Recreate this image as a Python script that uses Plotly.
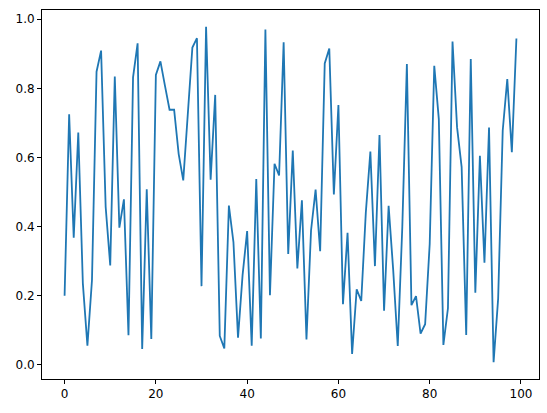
import plotly.graph_objects as go

x_values = list(range(100))
y_values = [
    0.200, 0.725, 0.368, 0.672, 0.236, 0.056, 0.245, 0.848, 0.909, 0.457,
    0.288, 0.834, 0.397, 0.479, 0.086, 0.832, 0.930, 0.046, 0.508, 0.075,
    0.839, 0.878, 0.807, 0.738, 0.738, 0.610, 0.534, 0.727, 0.918, 0.945,
    0.228, 0.978, 0.536, 0.781, 0.084, 0.048, 0.461, 0.355, 0.079, 0.260,
    0.387, 0.056, 0.538, 0.077, 0.970, 0.202, 0.582, 0.548, 0.933, 0.321,
    0.620, 0.279, 0.476, 0.074, 0.389, 0.507, 0.329, 0.872, 0.915, 0.493,
    0.752, 0.176, 0.382, 0.032, 0.219, 0.185, 0.440, 0.617, 0.286, 0.665,
    0.157, 0.460, 0.275, 0.055, 0.400, 0.870, 0.173, 0.199, 0.091, 0.118,
    0.350, 0.865, 0.711, 0.058, 0.164, 0.935, 0.687, 0.572, 0.087, 0.885,
    0.209, 0.605, 0.296, 0.687, 0.008, 0.192, 0.678, 0.827, 0.615, 0.944,
]
x_ticks = [0, 20, 40, 60, 80, 100]
y_ticks = [0.0, 0.2, 0.4, 0.6, 0.8, 1.0]

fig = go.Figure(go.Scatter(
    x=x_values, y=y_values, mode="lines",
    line=dict(color="#1f77b4", width=1.8),
))

ymin, ymax = min(y_values), max(y_values)
ypad = (ymax - ymin) * 0.05
xpad = (max(x_values) - min(x_values)) * 0.05

axis_common = dict(
    showgrid=False, zeroline=False, showline=True, linecolor="black",
    linewidth=1, mirror=True, ticks="outside", ticklen=4, tickwidth=1,
    tickcolor="black", tickfont=dict(family="DejaVu Sans", size=12, color="black"),
)

fig.update_xaxes(range=[min(x_values) - xpad, max(x_values) + xpad],
                 tickvals=x_ticks, ticktext=[str(v) for v in x_ticks], **axis_common)
fig.update_yaxes(range=[ymin - ypad, ymax + ypad],
                 tickvals=y_ticks, ticktext=[f"{v:.1f}" for v in y_ticks], **axis_common)

fig.update_layout(
    width=547, height=413,
    margin=dict(l=42, r=8, t=10, b=34),
    paper_bgcolor="white", plot_bgcolor="white",
    showlegend=False,
)

fig.write_html("out.html")
